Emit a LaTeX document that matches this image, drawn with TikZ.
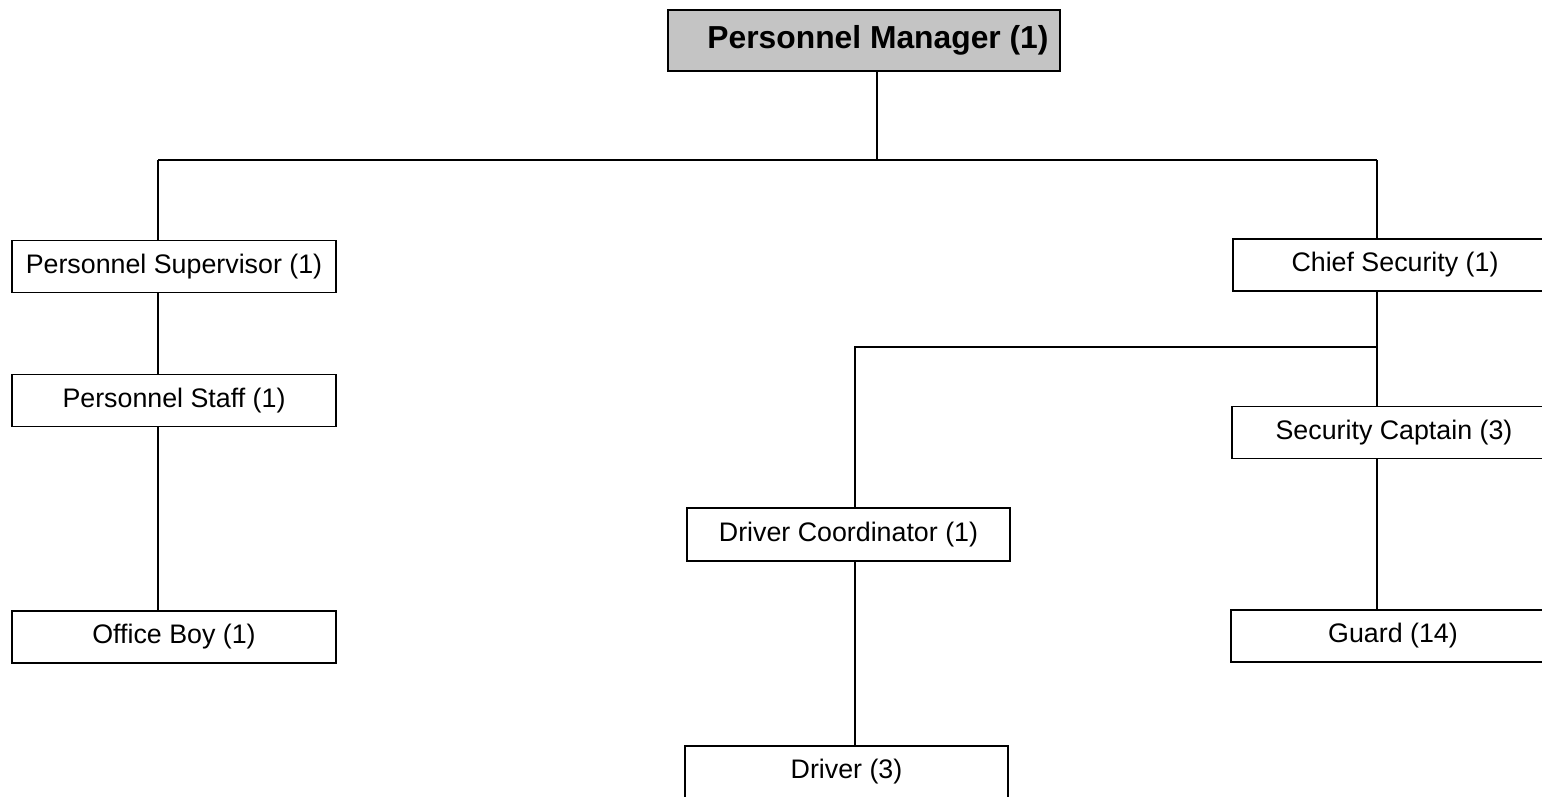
\documentclass[tikz,border=0pt]{standalone}
\usepackage{fontspec}
\setmainfont{Liberation Sans}
\begin{document}
\begin{tikzpicture}[x=1pt,y=-1pt,
  box/.style={draw=black,line width=1.8pt,fill=white,rectangle,inner sep=0pt,
    minimum width=324pt,minimum height=52pt,font=\fontsize{26.8}{32}\selectfont},
  topbox/.style={box,fill={rgb,255:red,196;green,196;blue,196},minimum width=392pt,
    minimum height=61pt,font=\fontsize{31.8}{38}\selectfont\bfseries},
  conn/.style={draw=black,line width=1.3pt}]
\useasboundingbox (0,0) rectangle (1542,796);
\clip (0,0) rectangle (1542,796);
\coordinate (xa) at (877,0);
\coordinate (xl) at (158,0);
\coordinate (xr) at (1377,0);
\coordinate (xm) at (855,0);
\coordinate (ya) at (0,160);
\coordinate (yb) at (0,347);
% connectors
\draw[conn] (xa |- 0,40) -- (xa |- ya) coordinate (ja);
\coordinate (jl) at (xl |- ya);
\coordinate (jr) at (xr |- ya);
\coordinate (jb) at (xr |- yb);
\coordinate (jm) at (xm |- yb);
\draw[conn] (jl) -- (jr);
\node[topbox] (pm) at (864,40.5) {\hspace*{28pt}Personnel Manager (1)};
\node[box] (ps) at (174,266.5) {Personnel Supervisor (1)};
\node[box] (pst) at (174,400.5) {Personnel Staff (1)};
\node[box] (ob) at (174,637) {Office Boy (1)};
\node[box] (cs) at (1395,265) {Chief Security (1)};
\node[box] (sc) at (1394,432.5) {Security Captain (3)};
\node[box] (gd) at (1393,636) {Guard (14)};
\node[box,minimum width=323pt,minimum height=53pt] (dc) at (848.5,534.5) {Driver Coordinator (1)};
\node[box,minimum width=323pt] (dr) at (846.5,772) {Driver (3)};
\draw[conn] (pm.south -| xa) -- (ja);
\draw[conn] (jl) -- (ps.north -| xl);
\draw[conn] (jr) -- (cs.north -| xr);
\draw[conn] (ps.south -| xl) -- (pst.north -| xl);
\draw[conn] (pst.south -| xl) -- (ob.north -| xl);
\draw[conn] (cs.south -| xr) -- (sc.north -| xr);
\draw[conn] (jb) -- (jm) -- (dc.north -| xm);
\draw[conn] (sc.south -| xr) -- (gd.north -| xr);
\draw[conn] (dc.south -| xm) -- (dr.north -| xm);
\end{tikzpicture}
\end{document}
